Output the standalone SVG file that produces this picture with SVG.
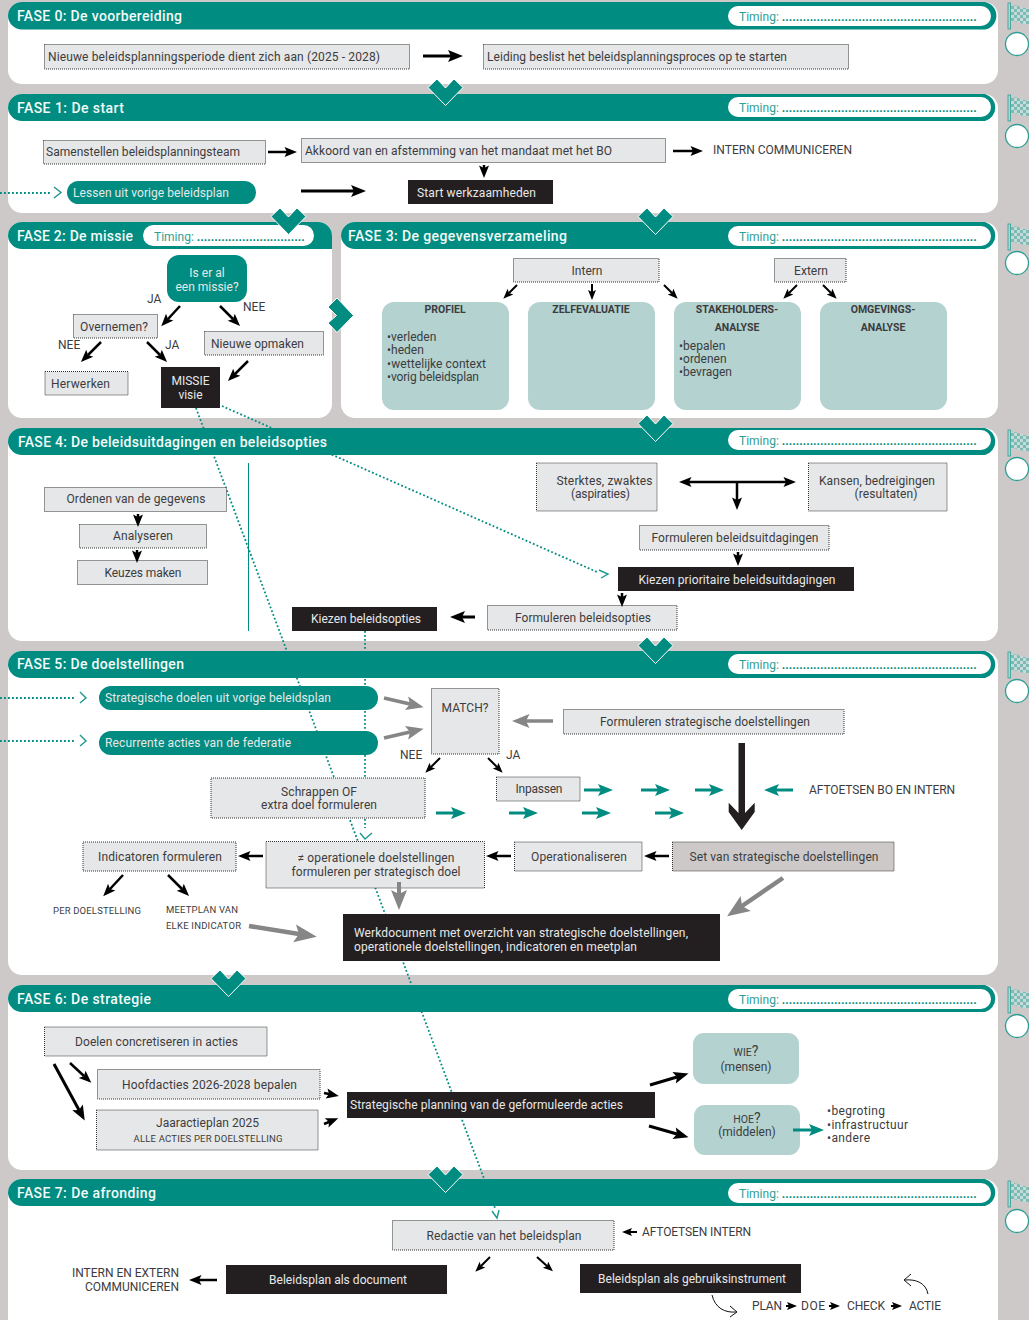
<svg xmlns="http://www.w3.org/2000/svg" width="1029" height="1320" viewBox="0 0 1029 1320">
<style>
text{font-family:Roboto,"Liberation Sans",sans-serif;font-size:12px;fill:#3c3c3e}
.h{font-size:14px;font-weight:500;fill:#f4fbfa}
.w{fill:#e8e8e8}
.m{text-anchor:middle}
.s{font-size:9.5px}
.b{font-size:10.5px;font-weight:700;text-anchor:middle;fill:#3c3c3e}
.tm{fill:#2f9e94;font-size:12px}
.td{font-weight:700;fill:#008c80}
.panel{fill:#fff}
.head{fill:#008c80}
.pill{fill:#fff}
.box{fill:#e6e7e8;stroke:#333;stroke-width:1;stroke-dasharray:1 1}
.boxg{fill:#cdc9c8;stroke:#333;stroke-width:1;stroke-dasharray:1 1}
.blk{fill:#231f20}
.teal{fill:#008c80}
.lt{fill:#b3d2d0}
.dot{fill:none;stroke:#008c80;stroke-width:1.8;stroke-dasharray:1.8 2.2}
.ak{fill:none;stroke:#000;marker-end:url(#hk)}
.ag{fill:none;stroke:#868686;marker-end:url(#hg)}
.at{fill:none;stroke:#008c80;stroke-width:3;marker-end:url(#ht)}
.thin{fill:none;stroke:#111;stroke-width:1}
.ck{fill:none;stroke:#1a9a8f;stroke-width:1.4}
</style>
<defs>
<marker id="hk" markerWidth="6" markerHeight="6" refX="1" refY="3" orient="auto-start-reverse" overflow="visible"><path d="M0,1 L5,3 L0,5 L1,3z" fill="#000"/></marker>
<marker id="hg" markerWidth="6" markerHeight="6" refX="1" refY="3" orient="auto" overflow="visible"><path d="M0,1 L5,3 L0,5 L1,3z" fill="#868686"/></marker>
<marker id="ht" markerWidth="6" markerHeight="6" refX="1" refY="3" orient="auto" overflow="visible"><path d="M0,1 L5,3 L0,5 L1,3z" fill="#008c80"/></marker>
<pattern id="chk" width="6" height="6" patternUnits="userSpaceOnUse"><rect width="6" height="6" fill="#c4dcd9"/><rect width="3" height="3" fill="#7dbab3"/><rect x="3" y="3" width="3" height="3" fill="#7dbab3"/></pattern>
<polygon id="chev" points="9,0 17.5,9 26,0 35,8.5 17.5,26.5 0,8.5" fill="#008c80" stroke="#fff" stroke-width="1"/>
<g id="flag"><rect x="0" y="0" width="2.6" height="26" fill="#b3d2d0" stroke="#2f9e94" stroke-width="0.8"/><path d="M3,3 C9,0 14,7 21.5,5 L21.5,21 C14,23 9,16 3,19z" fill="url(#chk)"/></g>
</defs>

<rect width="1029" height="1320" fill="#cdc9c8"/>

<g id="panels">
<rect class="panel" x="8" y="2" width="990" height="82" rx="14"/>
<rect class="panel" x="8" y="94" width="990" height="119" rx="14"/>
<rect class="panel" x="8" y="222" width="324" height="196" rx="14"/>
<rect class="panel" x="341" y="222" width="657" height="196" rx="14"/>
<rect class="panel" x="8" y="428" width="990" height="213" rx="14"/>
<rect class="panel" x="8" y="651" width="990" height="324" rx="14"/>
<rect class="panel" x="8" y="985" width="990" height="185" rx="14"/>
<rect class="panel" x="8" y="1179" width="990" height="160" rx="14"/>
</g>

<g id="dotted-connectors">
<path class="dot" d="M196,408 L495,1208"/>
<path class="dot" d="M222,406 L597,572"/>
<path class="dot" d="M365,631 V828"/>
<path class="dot" d="M0,193 H50"/>
<path class="dot" d="M0,698 H76"/>
<path class="dot" d="M0,741 H76"/>
<path class="ck" d="M54,187 L61,192.500 L54,198"/>
<path class="ck" d="M80,692 L86,698 L80,703"/>
<path class="ck" d="M80,735 L86,741 L80,746"/>
<path class="ck" d="M599,570 L608,574 L601,578"/>
<path class="ck" d="M360,833 L365,839 L372,833"/>
<path class="ck" d="M492,1211 L497,1218 L499,1210"/>
<path d="M248.500,463 V631" stroke="#008c80" stroke-width="1" fill="none"/>
</g>

<g id="headers">
<path class="head" d="M8,16 a14,14 0 0 1 14,-14 H985 a14,14 0 0 1 0,27.500 H22 a14,14 0 0 1 -14,-13.500z"/>
<path class="head" d="M8,108 a14,14 0 0 1 14,-14 H985 a14,14 0 0 1 0,27 H22 a14,14 0 0 1 -14,-13z"/>
<path class="head" d="M8,236 a14,14 0 0 1 14,-14 H318 a14,14 0 0 1 14,14 V249 H22 a14,14 0 0 1 -14,-13z"/>
<path class="head" d="M341,236 a14,14 0 0 1 14,-14 H985 a14,14 0 0 1 0,27 H355 a14,14 0 0 1 -14,-13z"/>
<path class="head" d="M8,442 a14,14 0 0 1 14,-14 H985 a14,14 0 0 1 0,27 H22 a14,14 0 0 1 -14,-13z"/>
<path class="head" d="M8,665 a14,14 0 0 1 14,-14 H985 a14,14 0 0 1 0,27 H22 a14,14 0 0 1 -14,-13z"/>
<path class="head" d="M8,999 a14,14 0 0 1 14,-14 H985 a14,14 0 0 1 0,27 H22 a14,14 0 0 1 -14,-13z"/>
<path class="head" d="M8,1193 a14,14 0 0 1 14,-14 H985 a14,14 0 0 1 0,27 H22 a14,14 0 0 1 -14,-13z"/>
<text class="h" x="17" y="21" textLength="165">FASE 0: De voorbereiding</text>
<text class="h" x="17" y="113" textLength="107">FASE 1: De start</text>
<text class="h" x="17" y="241" textLength="116">FASE 2: De missie</text>
<text class="h" x="348" y="241" textLength="219">FASE 3: De gegevensverzameling</text>
<text class="h" x="18" y="447" textLength="309">FASE 4: De beleidsuitdagingen en beleidsopties</text>
<text class="h" x="17" y="669" textLength="167">FASE 5: De doelstellingen</text>
<text class="h" x="17" y="1004" textLength="134">FASE 6: De strategie</text>
<text class="h" x="17" y="1198" textLength="139">FASE 7: De afronding</text>
<g id="timing-pills">
<rect class="pill" x="728" y="6" width="263" height="20" rx="10"/>
<rect class="pill" x="728" y="97" width="263" height="20" rx="10"/>
<rect class="pill" x="143" y="225" width="171" height="21" rx="10.500"/>
<rect class="pill" x="728" y="226" width="263" height="20" rx="10"/>
<rect class="pill" x="728" y="430" width="263" height="20" rx="10"/>
<rect class="pill" x="728" y="654" width="263" height="20" rx="10"/>
<rect class="pill" x="728" y="989" width="263" height="20" rx="10"/>
<rect class="pill" x="728" y="1183" width="263" height="20" rx="10"/>
<text class="tm" x="739" y="21">Timing: <tspan class="td">........................................................</tspan></text>
<text class="tm" x="739" y="112">Timing: <tspan class="td">........................................................</tspan></text>
<text class="tm" x="154" y="241">Timing: <tspan class="td">...............................</tspan></text>
<text class="tm" x="739" y="241">Timing: <tspan class="td">........................................................</tspan></text>
<text class="tm" x="739" y="445">Timing: <tspan class="td">........................................................</tspan></text>
<text class="tm" x="739" y="669">Timing: <tspan class="td">........................................................</tspan></text>
<text class="tm" x="739" y="1004">Timing: <tspan class="td">........................................................</tspan></text>
<text class="tm" x="739" y="1198">Timing: <tspan class="td">........................................................</tspan></text>
</g>
</g>

<g id="side-marks">
<use href="#flag" x="1008" y="3"/><circle cx="1017" cy="44" r="11.500" fill="#fff" stroke="#2f9e94" stroke-width="1.3"/>
<use href="#flag" x="1008" y="95"/><circle cx="1017" cy="136" r="11.500" fill="#fff" stroke="#2f9e94" stroke-width="1.3"/>
<use href="#flag" x="1008" y="224"/><circle cx="1017" cy="263" r="11.500" fill="#fff" stroke="#2f9e94" stroke-width="1.3"/>
<use href="#flag" x="1008" y="430"/><circle cx="1017" cy="469" r="11.500" fill="#fff" stroke="#2f9e94" stroke-width="1.3"/>
<use href="#flag" x="1008" y="652"/><circle cx="1017" cy="691" r="11.500" fill="#fff" stroke="#2f9e94" stroke-width="1.3"/>
<use href="#flag" x="1008" y="987"/><circle cx="1017" cy="1026" r="11.500" fill="#fff" stroke="#2f9e94" stroke-width="1.3"/>
<use href="#flag" x="1008" y="1181"/><circle cx="1017" cy="1221" r="11.500" fill="#fff" stroke="#2f9e94" stroke-width="1.3"/>
</g>

<g id="f0-a"><rect class="box" x="44.500" y="44.500" width="365" height="24.500"/><text x="48" y="61" textLength="332">Nieuwe beleidsplanningsperiode dient zich aan (2025 - 2028)</text></g>
<g id="f0-b"><rect class="box" x="483.500" y="44.500" width="365" height="24.500"/><text x="487" y="61" textLength="300">Leiding beslist het beleidsplanningsproces op te starten</text></g>

<g id="f1-a"><rect class="box" x="43.500" y="140.500" width="222" height="23.500"/><text x="46" y="156" textLength="194">Samenstellen beleidsplanningsteam</text></g>
<g id="f1-b"><rect class="box" x="301.500" y="138.500" width="364" height="24"/><text x="305" y="155" textLength="307">Akkoord van en afstemming van het mandaat met het BO</text></g>
<g id="f1-c"><text x="713" y="154" textLength="139">INTERN COMMUNICEREN</text></g>
<g id="f1-d"><rect class="teal" x="67" y="181" width="189" height="23" rx="11.500"/><text class="w" x="73" y="197" textLength="156">Lessen uit vorige beleidsplan</text></g>
<g id="f1-e"><rect class="blk" x="408" y="180" width="145" height="24"/><text class="w" x="417" y="197" textLength="119">Start werkzaamheden</text></g>

<g id="f2-q"><rect class="teal" x="167" y="255" width="80" height="47" rx="12"/><text class="w m" x="207" y="277">Is er al</text><text class="w m" x="207" y="291">een missie?</text></g>
<g id="f2-ja"><text x="147" y="303">JA</text><text x="243" y="311">NEE</text><text x="58" y="349">NEE</text><text x="165" y="349">JA</text></g>
<g id="f2-over"><rect class="box" x="73.500" y="314.500" width="84" height="23.500"/><text class="m" x="114" y="331" textLength="68">Overnemen?</text></g>
<g id="f2-nieuw"><rect class="box" x="204.500" y="331.500" width="119" height="23.500"/><text x="211" y="348" textLength="93">Nieuwe opmaken</text></g>
<g id="f2-herw"><rect class="box" x="45" y="371.500" width="83" height="23.500"/><text x="51" y="388" textLength="59">Herwerken</text></g>
<g id="f2-missie"><rect class="blk" x="161" y="367" width="59" height="41"/><text class="w m" x="190.500" y="385">MISSIE</text><text class="w m" x="190.500" y="399">visie</text></g>

<g id="f3-intern"><rect class="box" x="513.500" y="258.500" width="145.500" height="23.500"/><text class="m" x="587" y="275">Intern</text></g>
<g id="f3-extern"><rect class="box" x="774.500" y="258.500" width="71.500" height="23.500"/><text class="m" x="811" y="275">Extern</text></g>
<g id="f3-profiel"><rect class="lt" x="382" y="302" width="127" height="108" rx="12"/><text class="b" x="445" y="313">PROFIEL</text><text x="387" y="341">•verleden</text><text x="387" y="354">•heden</text><text x="387" y="368" textLength="99">•wettelijke context</text><text x="387" y="381" textLength="92">•vorig beleidsplan</text></g>
<g id="f3-zelf"><rect class="lt" x="528" y="302" width="127" height="108" rx="12"/><text class="b" x="591" y="313">ZELFEVALUATIE</text></g>
<g id="f3-stake"><rect class="lt" x="674" y="302" width="127" height="108" rx="12"/><text class="b" x="737" y="313">STAKEHOLDERS-</text><text class="b" x="737" y="331">ANALYSE</text><text x="679" y="350">•bepalen</text><text x="679" y="363">•ordenen</text><text x="679" y="376">•bevragen</text></g>
<g id="f3-omg"><rect class="lt" x="820" y="302" width="127" height="108" rx="12"/><text class="b" x="883" y="313">OMGEVINGS-</text><text class="b" x="883" y="331">ANALYSE</text></g>

<g id="f4-orden"><rect class="box" x="44.500" y="487.500" width="182" height="24"/><text class="m" x="136" y="503" textLength="139">Ordenen van de gegevens</text></g>
<g id="f4-analyse"><rect class="box" x="79.500" y="524.500" width="127" height="23.500"/><text class="m" x="143" y="540" textLength="60">Analyseren</text></g>
<g id="f4-keuze"><rect class="box" x="77.500" y="560.500" width="130" height="24"/><text class="m" x="143" y="577" textLength="77">Keuzes maken</text></g>
<g id="f4-sterk"><rect class="box" x="536.500" y="463" width="120.500" height="48"/><text class="m" x="604.500" y="485" textLength="96">Sterktes, zwaktes</text><text class="m" x="600.500" y="498" textLength="59">(aspiraties)</text></g>
<g id="f4-kans"><rect class="box" x="808.500" y="463" width="138.500" height="48"/><text class="m" x="877" y="485" textLength="116">Kansen, bedreigingen</text><text class="m" x="886" y="498" textLength="63">(resultaten)</text></g>
<g id="f4-form1"><rect class="box" x="639.500" y="525.500" width="189.500" height="24.500"/><text class="m" x="735" y="542" textLength="167">Formuleren beleidsuitdagingen</text></g>
<g id="f4-kiezen1"><rect class="blk" x="618" y="567" width="236" height="24"/><text class="w m" x="737" y="584" textLength="197">Kiezen prioritaire beleidsuitdagingen</text></g>
<g id="f4-form2"><rect class="box" x="487.500" y="605.500" width="189.500" height="24.500"/><text class="m" x="583" y="622" textLength="136">Formuleren beleidsopties</text></g>
<g id="f4-kiezen2"><rect class="blk" x="292" y="607" width="145" height="24"/><text class="w m" x="366" y="623" textLength="110">Kiezen beleidsopties</text></g>

<g id="f5-p1"><rect class="teal" x="99" y="686" width="279" height="24" rx="12"/><text class="w" x="105" y="702" textLength="226">Strategische doelen uit vorige beleidsplan</text></g>
<g id="f5-p2"><rect class="teal" x="99" y="731" width="279" height="24" rx="12"/><text class="w" x="105" y="747" textLength="186">Recurrente acties van de federatie</text></g>
<g id="f5-match"><rect class="box" x="431.500" y="688.500" width="67.500" height="65.500"/><text class="m" x="465" y="712" textLength="47">MATCH?</text></g>
<g id="f5-form"><rect class="box" x="563.500" y="709.500" width="280.500" height="24.500"/><text class="m" x="705" y="726" textLength="210">Formuleren strategische doelstellingen</text></g>
<g id="f5-labels"><text x="400" y="759">NEE</text><text x="506" y="759">JA</text></g>
<g id="f5-schrap"><rect class="box" x="211" y="778" width="214" height="40"/><text class="m" x="319" y="796" textLength="76">Schrappen OF</text><text class="m" x="319" y="809" textLength="116">extra doel formuleren</text></g>
<g id="f5-inpassen"><rect class="box" x="496.500" y="777" width="83.500" height="24"/><text class="m" x="539" y="793" textLength="47">Inpassen</text></g>
<g id="f5-aft"><text x="809" y="794" textLength="146">AFTOETSEN BO EN INTERN</text></g>
<g id="f5-ind"><rect class="box" x="83" y="842" width="153" height="29"/><text class="m" x="160" y="861" textLength="124">Indicatoren formuleren</text></g>
<g id="f5-ops"><rect class="box" x="266" y="841.500" width="218.500" height="46.500"/><text class="m" x="376" y="862" textLength="157">≠ operationele doelstellingen</text><text class="m" x="376" y="876" textLength="169">formuleren per strategisch doel</text></g>
<g id="f5-oper"><rect class="box" x="514.500" y="842" width="127.500" height="29"/><text class="m" x="579" y="861" textLength="96">Operationaliseren</text></g>
<g id="f5-set"><rect class="boxg" x="672.500" y="842" width="221.500" height="29"/><text class="m" x="784" y="861" textLength="189">Set van strategische doelstellingen</text></g>
<g id="f5-per"><text class="s" x="53" y="914" textLength="88">PER DOELSTELLING</text></g>
<g id="f5-meet"><text class="s" x="166" y="913" textLength="72">MEETPLAN VAN</text><text class="s" x="166" y="929" textLength="75">ELKE INDICATOR</text></g>
<g id="f5-werk"><rect class="blk" x="343" y="914" width="377" height="47"/><text class="w" x="354" y="937" textLength="334">Werkdocument met overzicht van strategische doelstellingen,</text><text class="w" x="354" y="951" textLength="283">operationele doelstellingen, indicatoren en meetplan</text></g>

<g id="f6-doel"><rect class="box" x="44.500" y="1027" width="222.500" height="29"/><text class="m" x="156.500" y="1046" textLength="163">Doelen concretiseren in acties</text></g>
<g id="f6-hoofd"><rect class="box" x="97.500" y="1069.500" width="222.500" height="29.500"/><text class="m" x="209.500" y="1089" textLength="175">Hoofdacties 2026-2028 bepalen</text></g>
<g id="f6-jaar"><rect class="box" x="96.500" y="1110" width="221.500" height="40"/><text class="m" x="207.500" y="1127" textLength="103">Jaaractieplan 2025</text><text class="m s" x="208" y="1142" textLength="149">ALLE ACTIES PER DOELSTELLING</text></g>
<g id="f6-strat"><rect class="blk" x="347" y="1092" width="308" height="26"/><text class="w" x="350" y="1109" textLength="273">Strategische planning van de geformuleerde acties</text></g>
<g id="f6-wie"><rect class="lt" x="693" y="1033" width="106" height="51" rx="11"/><text class="m" x="746" y="1056"><tspan font-size="10.500">WIE</tspan><tspan font-size="14">?</tspan></text><text class="m" x="746" y="1071">(mensen)</text></g>
<g id="f6-hoe"><rect class="lt" x="694" y="1105" width="106" height="50" rx="11"/><text class="m" x="747" y="1123"><tspan font-size="10.500">HOE</tspan><tspan font-size="14">?</tspan></text><text class="m" x="747" y="1136">(middelen)</text></g>
<g id="f6-list"><text x="827" y="1115" textLength="58">•begroting</text><text x="827" y="1129" textLength="81">•infrastructuur</text><text x="827" y="1142" textLength="43">•andere</text></g>

<g id="f7-red"><rect class="box" x="392.500" y="1220.500" width="221.500" height="29.500"/><text class="m" x="504" y="1240" textLength="155">Redactie van het beleidsplan</text></g>
<g id="f7-aft"><text x="642" y="1236" textLength="109">AFTOETSEN INTERN</text></g>
<g id="f7-doc"><rect class="blk" x="226" y="1265" width="221" height="29"/><text class="w m" x="338" y="1284" textLength="138">Beleidsplan als document</text></g>
<g id="f7-instr"><rect class="blk" x="580" y="1264" width="221" height="29"/><text class="w m" x="692" y="1283" textLength="188">Beleidsplan als gebruiksinstrument</text></g>
<g id="f7-comm"><text x="179" y="1277" text-anchor="end" textLength="107">INTERN EN EXTERN</text><text x="179" y="1291" text-anchor="end" textLength="94">COMMUNICEREN</text></g>
<g id="f7-pdca"><text x="752" y="1310" textLength="30">PLAN</text><text x="801" y="1310" textLength="24">DOE</text><text x="847" y="1310" textLength="38">CHECK</text><text x="909" y="1310" textLength="32">ACTIE</text></g>

<g id="connectors">
<path class="ak" stroke-width="3" d="M423,56H451"/>
<path class="ak" stroke-width="2.500" d="M268,152H287"/>
<path class="ak" stroke-width="2.500" d="M484,165V168"/>
<path class="ak" stroke-width="2.500" d="M673,151H693"/>
<path class="ak" stroke-width="3" d="M301,191H354"/>
<path class="ak" stroke-width="2.500" d="M180,306L168,319"/>
<path class="ak" stroke-width="2.500" d="M220,306L233,319"/>
<path class="ak" stroke-width="2.500" d="M101,342L88,355"/>
<path class="ak" stroke-width="2.500" d="M147,342L160,355"/>
<path class="ak" stroke-width="2.500" d="M248,361L235,374"/>
<path class="ak" stroke-width="2" d="M517,285L509,293"/>
<path class="ak" stroke-width="2" d="M592,284V292"/>
<path class="ak" stroke-width="2" d="M664,285L672,293"/>
<path class="ak" stroke-width="2" d="M797,285L789,293"/>
<path class="ak" stroke-width="2" d="M823,285L831,293"/>
<path class="ak" stroke-width="2.500" d="M138,514V517"/>
<path class="ak" stroke-width="2.500" d="M137,550V553"/>
<path class="ak" stroke-width="2.500" style="marker-start:url(#hk)" d="M689,482H786"/>
<path class="ak" stroke-width="2.500" d="M737,482V500"/>
<path class="ak" stroke-width="2.500" d="M738,552V556"/>
<path class="ak" stroke-width="2.500" d="M622,593V597"/>
<path class="ak" stroke-width="3" d="M475,617H462"/>
<path class="ag" stroke-width="3.500" d="M384,698L410,704"/>
<path class="ag" stroke-width="3.500" d="M384,738L410,732"/>
<path class="ag" stroke-width="3.500" d="M553,721H526"/>
<path class="ak" stroke-width="2" d="M440,758L431,767"/>
<path class="ak" stroke-width="2" d="M488,758L497,767"/>
<path class="at" d="M584,790H601"/><path class="at" d="M641,790H658"/><path class="at" d="M695,790H712"/><path class="at" d="M793,790H776"/>
<path class="at" d="M436,813H454"/><path class="at" d="M509,813H526"/><path class="at" d="M582,813H599"/><path class="at" d="M655,813H672"/>
<polygon points="738.500,743 745,743 745,813 754.700,802.700 754.700,812 741.700,830 728.700,812 728.700,802.700 738.500,813" fill="#231f20"/>
<path class="ak" stroke-width="2.500" d="M263,856H248"/>
<path class="ak" stroke-width="2.500" d="M511,856H496"/>
<path class="ak" stroke-width="2.500" d="M669,856H654"/>
<path class="ag" stroke-width="4.500" d="M783,878L742,906"/>
<path class="ag" stroke-width="4" d="M399,882V894"/>
<path class="ag" stroke-width="4.500" d="M249,926L299,934"/>
<path class="ak" stroke-width="2.500" d="M123,875L110,889"/>
<path class="ak" stroke-width="2.500" d="M168,875L182,889"/>
<path class="ak" stroke-width="2.500" d="M70,1063L84,1076"/>
<path class="ak" stroke-width="3" d="M54,1064L79,1110"/>
<path class="ak" stroke-width="2.500" d="M324,1093L329,1094"/>
<path class="ak" stroke-width="2.500" d="M324,1124L329,1122"/>
<path class="ak" stroke-width="3" d="M650,1085L677,1077"/>
<path class="ak" stroke-width="3" d="M649,1126L677,1134"/>
<path class="at" stroke-width="2.500" d="M793,1130H812"/>
<path class="ak" stroke-width="2" d="M637,1232H630"/>
<path class="ak" stroke-width="2" d="M490,1257L481,1266"/>
<path class="ak" stroke-width="2" d="M537,1257L547,1266"/>
<path class="ak" stroke-width="2.500" d="M217,1280H199"/>
<path class="ak" stroke-width="2" d="M786,1306H789"/>
<path class="ak" stroke-width="2" d="M829,1306H832"/>
<path class="ak" stroke-width="2" d="M891,1306H894"/>
<path class="thin" d="M712,1295 C715,1308 725,1313 736,1312 M730,1306 L737,1312 L730,1317"/>
<path class="thin" d="M928,1294 C926,1283 916,1279 905,1280 M911,1274 L904,1280 L911,1286"/>
</g>

<g id="chevrons">
<use href="#chev" x="428" y="79"/>
<use href="#chev" x="271" y="208"/>
<use href="#chev" x="638" y="208"/>
<use href="#chev" x="638" y="415"/>
<use href="#chev" x="638" y="637"/>
<use href="#chev" x="211" y="970"/>
<use href="#chev" x="428" y="1166"/>
<polygon points="337,298 353.500,315.500 337,332.500 328,323 336.500,315.500 328,307" fill="#008c80" stroke="#fff" stroke-width="1"/>
</g>
</svg>
